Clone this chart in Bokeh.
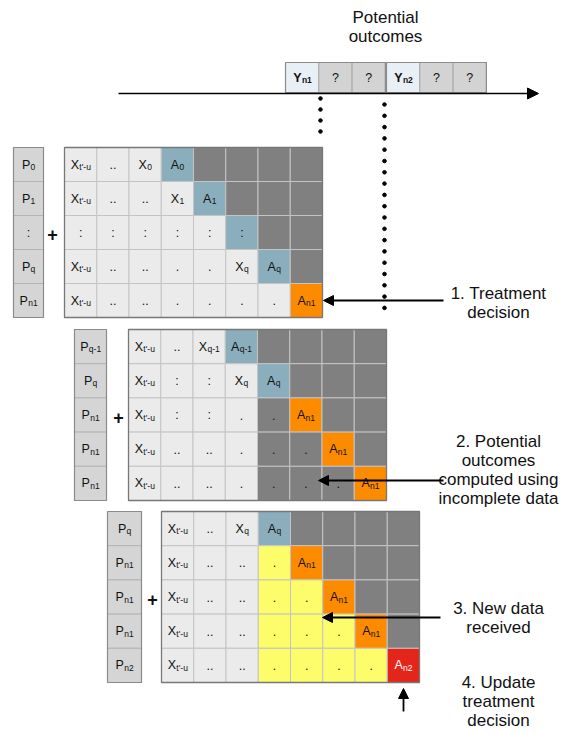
from bokeh.plotting import figure
from bokeh.models import Range1d, Arrow, NormalHead, ColumnDataSource
from bokeh.embed import file_html
from bokeh.resources import INLINE
from bokeh.core.properties import value
import numpy as np

FONT = "Liberation Sans"

# ---------------- data ----------------
timeline_labels = ["Y_n1", "?", "?", "Y_n2", "?", "?"]
timeline_kinds = ["Y", "Q", "Q", "Y", "Q", "Q"]
title_lines = ["Potential", "outcomes"]

m1_p = ["P_0", "P_1", ":", "P_q", "P_n1"]
m1_cells = [
    ["X_t'-u", "..", "X_0", "A_0", "", "", "", ""],
    ["X_t'-u", "..", "..", "X_1", "A_1", "", "", ""],
    [":", ":", ":", ":", ":", ":", "", ""],
    ["X_t'-u", "..", "..", ".", ".", "X_q", "A_q", ""],
    ["X_t'-u", "..", "..", ".", ".", ".", ".", "A_n1"],
]
m1_colors = ["LLLBDDDD", "LLLLBDDD", "LLLLLBDD", "LLLLLLBD", "LLLLLLLO"]

m2_p = ["P_q-1", "P_q", "P_n1", "P_n1", "P_n1"]
m2_cells = [
    ["X_t'-u", "..", "X_q-1", "A_q-1", "", "", "", ""],
    ["X_t'-u", ":", ":", "X_q", "A_q", "", "", ""],
    ["X_t'-u", ":", ":", ".", ".", "A_n1", "", ""],
    ["X_t'-u", "..", "..", ".", ".", ".", "A_n1", ""],
    ["X_t'-u", "..", "..", ".", ".", ".", ".", "A_n1"],
]
m2_colors = ["LLLBDDDD", "LLLLBDDD", "LLLLDODD", "LLLLDDOD", "LLLLDDDO"]

m3_p = ["P_q", "P_n1", "P_n1", "P_n1", "P_n2"]
m3_cells = [
    ["X_t'-u", "..", "X_q", "A_q", "", "", "", ""],
    ["X_t'-u", "..", "..", ".", "A_n1", "", "", ""],
    ["X_t'-u", "..", "..", ".", ".", "A_n1", "", ""],
    ["X_t'-u", "..", "..", ".", ".", ".", "A_n1", ""],
    ["X_t'-u", "..", "..", ".", ".", ".", ".", "A_n2"],
]
m3_colors = ["LLLBDDDD", "LLLYODDD", "LLLYYODD", "LLLYYYOD", "LLLYYYYR"]

notes = [
    ["1. Treatment", "decision"],
    ["2. Potential", "outcomes", "computed using", "incomplete data"],
    ["3. New data", "received"],
    ["4. Update", "treatment", "decision"],
]

# ---------------- styles / layout ----------------
FILL = {"L": "#ebebeb", "B": "#8aaebc", "D": "#808080", "O": "#fd8b00",
        "Y": "#fdfd6b", "R": "#e4261a", "P": "#d5d5d5"}
TEXTC = {"R": "#ffffff"}

# matrix layout: (p_x0, p_w, grid_x0, y0, cell_w, cell_h, plus_x)
layouts = [
    (13, 30, 64, 147, 32.25, 34.0, 52),
    (74, 32, 128, 329, 32.25, 34.2, 118),
    (107, 34, 161, 511, 32.25, 34.2, 152),
]
matrices = [(m1_p, m1_cells, m1_colors), (m2_p, m2_cells, m2_colors),
            (m3_p, m3_cells, m3_colors)]

W = {'X': 667, 'A': 667, 'P': 667, 'Y': 667, 't': 278, "'": 191, '-': 333,
     'u': 556, 'n': 556, 'q': 556, '.': 278, ':': 278, '?': 556}


def tw(s, size):
    return sum(W.get(c, 556) for c in s) / 1000.0 * size


BASE = 12.5
SUB = 8.5

p = figure(width=566, height=734, x_range=Range1d(0, 566), y_range=Range1d(734, 0),
           output_backend="svg", toolbar_location=None, min_border=0,
           x_axis_type=None, y_axis_type=None)
p.grid.visible = False
p.outline_line_color = None
p.background_fill_color = "white"

base_t = dict(x=[], y=[], text=[], align=[], color=[])
sub_t = dict(x=[], y=[], text=[], color=[])


def add_label(lbl, cx, cy, color="#111111"):
    if not lbl:
        return
    if "_" in lbl:
        b, s = lbl.split("_", 1)
        total = tw(b, BASE) + tw(s, SUB)
        ax = cx - total / 2 + tw(b, BASE)
        base_t["x"].append(ax); base_t["y"].append(cy); base_t["text"].append(b)
        base_t["align"].append("right"); base_t["color"].append(color)
        sub_t["x"].append(ax + 0.3); sub_t["y"].append(cy + 2.5); sub_t["text"].append(s)
        sub_t["color"].append(color)
    else:
        base_t["x"].append(cx); base_t["y"].append(cy); base_t["text"].append(lbl)
        base_t["align"].append("center"); base_t["color"].append(color)


# ---------------- matrices ----------------
for (plist, cells, colors), (px0, pw, gx0, y0, cw, ch, plusx) in zip(matrices, layouts):
    nrow = len(cells)
    ncol = len(cells[0])
    # P column
    l, r, t, b = [], [], [], []
    for i, lbl in enumerate(plist):
        l.append(px0); r.append(px0 + pw); t.append(y0 + i * ch); b.append(y0 + (i + 1) * ch)
        add_label(lbl, px0 + pw / 2, y0 + (i + 0.5) * ch)
    p.quad(left=l, right=r, top=t, bottom=b, fill_color=FILL["P"], line_color="#b4b4b4", line_width=1)
    p.quad(left=[px0], right=[px0 + pw], top=[y0], bottom=[y0 + nrow * ch],
           fill_color=None, line_color="#8a8a8a", line_width=1.2)
    # grid
    l, r, t, b, f = [], [], [], [], []
    for i in range(nrow):
        for j in range(ncol):
            code = colors[i][j]
            l.append(gx0 + j * cw); r.append(gx0 + (j + 1) * cw)
            t.append(y0 + i * ch); b.append(y0 + (i + 1) * ch)
            f.append(FILL[code])
            add_label(cells[i][j], gx0 + (j + 0.5) * cw, y0 + (i + 0.5) * ch,
                      TEXTC.get(code, "#111111"))
    p.quad(left=l, right=r, top=t, bottom=b, fill_color=f, line_color="#c4c4c4", line_width=1)
    p.quad(left=[gx0], right=[gx0 + ncol * cw], top=[y0], bottom=[y0 + nrow * ch],
           fill_color=None, line_color="#777777", line_width=1.3)
    p.text(x=[plusx], y=[y0 + nrow * ch / 2 + 2], text=["+"], text_font=value(FONT),
           text_font_size="18px", text_font_style="bold", text_align="center",
           text_baseline="middle", text_color="#111111")

# ---------------- timeline ----------------
tl_y0, tl_h, tl_w = 62, 30, 33.3
tl_starts = [285, 386]
l, r, t, b, f = [], [], [], [], []
ybold = dict(x=[], y=[], text=[])
qtexts = dict(x=[], y=[], text=[])
ysubs = dict(x=[], y=[], text=[])
for k, (lbl, kind) in enumerate(zip(timeline_labels, timeline_kinds)):
    g, j = divmod(k, 3)
    x0 = tl_starts[g] + j * tl_w
    l.append(x0); r.append(x0 + tl_w); t.append(tl_y0); b.append(tl_y0 + tl_h)
    f.append("#e8f0f6" if kind == "Y" else "#d3d3d3")
    cx, cy = x0 + tl_w / 2, tl_y0 + tl_h / 2
    if "_" in lbl:
        bb, ss = lbl.split("_", 1)
        total = tw(bb, BASE) + tw(ss, SUB)
        ax = cx - total / 2 + tw(bb, BASE)
        ybold["x"].append(ax); ybold["y"].append(cy); ybold["text"].append(bb)
        ysubs["x"].append(ax + 0.3); ysubs["y"].append(cy + 2.5); ysubs["text"].append(ss)
    else:
        qtexts["x"].append(cx); qtexts["y"].append(cy); qtexts["text"].append(lbl)
p.quad(left=l, right=r, top=t, bottom=b, fill_color=f, line_color="#a8a8a8", line_width=1)
for s in tl_starts:
    p.quad(left=[s], right=[s + 3 * tl_w], top=[tl_y0], bottom=[tl_y0 + tl_h],
           fill_color=None, line_color="#8c8c8c", line_width=1.2)
p.text(x="x", y="y", text="text", source=ColumnDataSource(ybold), text_font=value(FONT),
       text_font_size="12.5px", text_font_style="bold", text_align="right",
       text_baseline="middle", text_color="#111111")
p.text(x="x", y="y", text="text", source=ColumnDataSource(ysubs), text_font=value(FONT),
       text_font_size="8.5px", text_font_style="bold", text_align="left",
       text_baseline="middle", text_color="#111111")
p.text(x="x", y="y", text="text", source=ColumnDataSource(qtexts), text_font=value(FONT),
       text_font_size="12.5px", text_align="center", text_baseline="middle", text_color="#111111")

p.add_layout(Arrow(end=NormalHead(size=11, fill_color="black", line_color="black"),
                   x_start=118, y_start=93, x_end=538, y_end=93,
                   line_width=1.5, line_color="black"))

# dotted connectors
d1 = np.arange(98, 132, 11)
d2 = np.arange(104, 309, 11.3)
p.scatter(x=[320] * len(d1), y=d1, size=3.6, color="black")
p.scatter(x=[384] * len(d2), y=d2, size=3.6, color="black")

# ---------------- cell texts ----------------
p.text(x="x", y="y", text="text", text_align="align", text_color="color",
       source=ColumnDataSource(base_t), text_font=value(FONT), text_font_size="12.5px",
       text_baseline="middle")
p.text(x="x", y="y", text="text", text_color="color", source=ColumnDataSource(sub_t),
       text_font=value(FONT), text_font_size="8.5px", text_align="left", text_baseline="middle")

# ---------------- title and notes ----------------
p.text(x=[385, 385], y=[17, 36], text=title_lines, text_font=value(FONT),
       text_font_size="17px", text_align="center", text_baseline="middle", text_color="#111111")

note_tops = [293, 441, 608, 682]
nx, ny, nt = [], [], []
for lines, top in zip(notes, note_tops):
    for k, ln in enumerate(lines):
        nx.append(498); ny.append(top + k * 19); nt.append(ln)
p.text(x=nx, y=ny, text=nt, text_font=value(FONT), text_font_size="17px",
       text_align="center", text_baseline="middle", text_color="#111111")

# ---------------- pointer arrows ----------------
for xs, ys, xe, ye in [(443, 300, 323, 300), (443, 480, 318, 480),
                       (440, 617, 322, 617), (403, 711, 403, 688)]:
    p.add_layout(Arrow(end=NormalHead(size=10, fill_color="black", line_color="black"),
                       x_start=xs, y_start=ys, x_end=xe, y_end=ye,
                       line_width=1.8, line_color="black"))

open("out.html", "w").write(file_html(p, INLINE))
